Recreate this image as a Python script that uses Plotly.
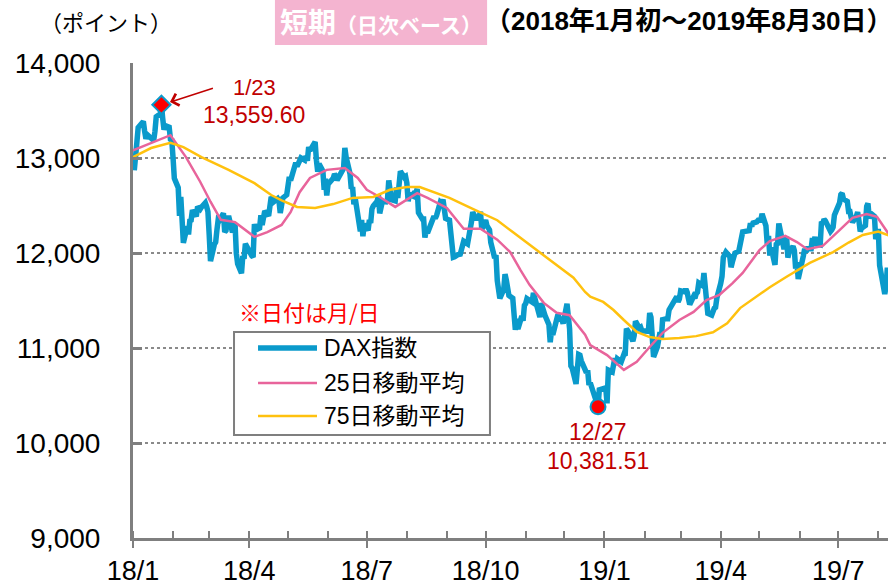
import plotly.graph_objects as go

# ---------------- data ----------------
dax_dates = [
"2018-01-02","2018-01-03","2018-01-04","2018-01-05","2018-01-08","2018-01-09","2018-01-10","2018-01-11","2018-01-12",
"2018-01-15","2018-01-16","2018-01-17","2018-01-18","2018-01-19","2018-01-22","2018-01-23","2018-01-24","2018-01-25",
"2018-01-26","2018-01-29","2018-01-30","2018-01-31","2018-02-01","2018-02-02","2018-02-05","2018-02-06","2018-02-07",
"2018-02-08","2018-02-09","2018-02-12","2018-02-13","2018-02-14","2018-02-15","2018-02-16","2018-02-19","2018-02-20",
"2018-02-21","2018-02-22","2018-02-23","2018-02-26","2018-02-27","2018-02-28","2018-03-01","2018-03-02","2018-03-05",
"2018-03-06","2018-03-07","2018-03-08","2018-03-09","2018-03-12","2018-03-13","2018-03-14","2018-03-15","2018-03-16",
"2018-03-19","2018-03-20","2018-03-21","2018-03-22","2018-03-23","2018-03-26","2018-03-27","2018-03-28","2018-03-29",
"2018-04-03","2018-04-04","2018-04-05","2018-04-06","2018-04-09","2018-04-10","2018-04-11","2018-04-12","2018-04-13",
"2018-04-16","2018-04-17","2018-04-18","2018-04-19","2018-04-20","2018-04-23","2018-04-24","2018-04-25","2018-04-26",
"2018-04-27","2018-04-30","2018-05-02","2018-05-03","2018-05-04","2018-05-07","2018-05-08","2018-05-09","2018-05-10",
"2018-05-11","2018-05-14","2018-05-15","2018-05-16","2018-05-17","2018-05-18","2018-05-22","2018-05-23","2018-05-24",
"2018-05-25","2018-05-28","2018-05-29","2018-05-30","2018-05-31","2018-06-01","2018-06-04","2018-06-05","2018-06-06",
"2018-06-07","2018-06-08","2018-06-11","2018-06-12","2018-06-13","2018-06-14","2018-06-15","2018-06-18","2018-06-19",
"2018-06-20","2018-06-21","2018-06-22","2018-06-25","2018-06-26","2018-06-27","2018-06-28","2018-06-29","2018-07-02",
"2018-07-03","2018-07-04","2018-07-05","2018-07-06","2018-07-09","2018-07-10","2018-07-11","2018-07-12","2018-07-13",
"2018-07-16","2018-07-17","2018-07-18","2018-07-19","2018-07-20","2018-07-23","2018-07-24","2018-07-25","2018-07-26",
"2018-07-27","2018-07-30","2018-07-31","2018-08-01","2018-08-02","2018-08-03","2018-08-06","2018-08-07","2018-08-08",
"2018-08-09","2018-08-10","2018-08-13","2018-08-14","2018-08-15","2018-08-16","2018-08-17","2018-08-20","2018-08-21",
"2018-08-22","2018-08-23","2018-08-24","2018-08-27","2018-08-28","2018-08-29","2018-08-30","2018-08-31","2018-09-03",
"2018-09-04","2018-09-05","2018-09-06","2018-09-07","2018-09-10","2018-09-11","2018-09-12","2018-09-13","2018-09-14",
"2018-09-17","2018-09-18","2018-09-19","2018-09-20","2018-09-21","2018-09-24","2018-09-25","2018-09-26","2018-09-27",
"2018-09-28","2018-10-01","2018-10-02","2018-10-04","2018-10-05","2018-10-08","2018-10-09","2018-10-10","2018-10-11",
"2018-10-12","2018-10-15","2018-10-16","2018-10-17","2018-10-18","2018-10-19","2018-10-22","2018-10-23","2018-10-24",
"2018-10-25","2018-10-26","2018-10-29","2018-10-30","2018-10-31","2018-11-01","2018-11-02","2018-11-05","2018-11-06",
"2018-11-07","2018-11-08","2018-11-09","2018-11-12","2018-11-13","2018-11-14","2018-11-15","2018-11-16","2018-11-19",
"2018-11-20","2018-11-21","2018-11-22","2018-11-23","2018-11-26","2018-11-27","2018-11-28","2018-11-29","2018-11-30",
"2018-12-03","2018-12-04","2018-12-05","2018-12-06","2018-12-07","2018-12-10","2018-12-11","2018-12-12","2018-12-13",
"2018-12-14","2018-12-17","2018-12-18","2018-12-19","2018-12-20","2018-12-21","2018-12-27","2018-12-28",
"2019-01-02","2019-01-03","2019-01-04","2019-01-07","2019-01-08","2019-01-09","2019-01-10","2019-01-11","2019-01-14",
"2019-01-15","2019-01-16","2019-01-17","2019-01-18","2019-01-21","2019-01-22","2019-01-23","2019-01-24","2019-01-25",
"2019-01-28","2019-01-29","2019-01-30","2019-01-31","2019-02-01","2019-02-04","2019-02-05","2019-02-06","2019-02-07",
"2019-02-08","2019-02-11","2019-02-12","2019-02-13","2019-02-14","2019-02-15","2019-02-18","2019-02-19","2019-02-20",
"2019-02-21","2019-02-22","2019-02-25","2019-02-26","2019-02-27","2019-02-28","2019-03-01","2019-03-04","2019-03-05",
"2019-03-06","2019-03-07","2019-03-08","2019-03-11","2019-03-12","2019-03-13","2019-03-14","2019-03-15","2019-03-18",
"2019-03-19","2019-03-20","2019-03-21","2019-03-22","2019-03-25","2019-03-26","2019-03-27","2019-03-28","2019-03-29",
"2019-04-01","2019-04-02","2019-04-03","2019-04-04","2019-04-05","2019-04-08","2019-04-09","2019-04-10","2019-04-11",
"2019-04-12","2019-04-15","2019-04-16","2019-04-17","2019-04-18","2019-04-23","2019-04-24","2019-04-25","2019-04-26",
"2019-04-29","2019-04-30","2019-05-02","2019-05-03","2019-05-06","2019-05-07","2019-05-08","2019-05-09","2019-05-10",
"2019-05-13","2019-05-14","2019-05-15","2019-05-16","2019-05-17","2019-05-20","2019-05-21","2019-05-22","2019-05-23",
"2019-05-24","2019-05-27","2019-05-28","2019-05-29","2019-05-30","2019-05-31","2019-06-03","2019-06-04","2019-06-05",
"2019-06-06","2019-06-07","2019-06-10","2019-06-11","2019-06-12","2019-06-13","2019-06-14","2019-06-17","2019-06-18",
"2019-06-19","2019-06-20","2019-06-21","2019-06-24","2019-06-25","2019-06-26","2019-06-27","2019-06-28","2019-07-01",
"2019-07-02","2019-07-03","2019-07-04","2019-07-05","2019-07-08","2019-07-09","2019-07-10","2019-07-11","2019-07-12",
"2019-07-15","2019-07-16","2019-07-17","2019-07-18","2019-07-19","2019-07-22","2019-07-23","2019-07-24","2019-07-25",
"2019-07-26","2019-07-29","2019-07-30","2019-07-31","2019-08-01","2019-08-02","2019-08-05","2019-08-06","2019-08-07",
"2019-08-08","2019-08-09",
]
dax_values = [
12871,12978,13167,13320,13367,13385,13282,13202,13245,
13201,13183,13184,13281,13434,13463,13559.60,13415,13298,
13340,13324,13197,13189,13004,12785,12687,12392,12590,
12260,12107,12282,12196,12339,12346,12452,12385,12488,
12470,12461,12483,12528,12490,12436,12190,11914,12091,
12114,12245,12355,12346,12418,12221,12237,12345,12390,
12217,12307,12309,11995,11887,11787,11970,11940,12097,
11970,11957,12305,12241,12262,12397,12294,12415,12442,
12392,12585,12591,12567,12540,12572,12550,12422,12500,
12580,12612,12802,12763,12820,12949,12912,12943,12956,
13001,12978,13019,12970,13115,13077,13169,12977,12855,
12938,12863,12666,12783,12605,12724,12771,12787,12830,
12811,12767,12842,12842,12890,13107,13010,12834,12677,
12695,12512,12580,12270,12228,12348,12177,12306,12238,
12349,12317,12465,12496,12543,12609,12417,12492,12541,
12539,12561,12765,12686,12561,12548,12690,12579,12809,
12860,12798,12806,12737,12546,12616,12598,12648,12634,
12676,12424,12358,12358,12163,12237,12210,12312,12384,
12386,12365,12394,12538,12528,12562,12494,12364,12346,
12210,12040,11955,11960,11987,11970,12032,12055,12124,
12096,12157,12219,12326,12430,12350,12374,12385,12435,
12247,12346,12287,12244,12111,11947,11977,11712,11539,
11523,11614,11777,11715,11589,11553,11524,11274,11191,
11307,11201,11335,11287,11447,11468,11519,11494,11484,
11579,11527,11529,11325,11472,11412,11354,11341,11245,
11061,11183,11138,11192,11354,11309,11299,11298,11257,
11465,11335,11201,10811,10788,10622,10780,10931,10924,
10866,10772,10740,10766,10611,10634,10381.51,10559,
10580,10417,10767,10747,10804,10893,10822,10887,10856,
10891,10931,10919,11205,11136,11090,11072,11130,11282,
11210,11219,11181,11173,11180,11176,11368,11324,10990,
10906,11014,11126,11167,11090,11299,11309,11309,11401,
11423,11457,11505,11540,11487,11516,11601,11592,11620,
11588,11518,11458,11543,11524,11572,11587,11685,11657,
11789,11603,11550,11364,11346,11419,11419,11428,11526,
11681,11754,11954,11988,12009,11963,11850,11905,11935,
11999,12020,12101,12153,12222,12235,12313,12282,12315,
12328,12344,12345,12412,12286,12093,12180,11973,12059,
11876,12092,12100,12310,12238,12041,12143,12168,11952,
12011,12071,12027,11837,11902,11727,11971,11971,12045,
12010,12045,12045,12158,12115,12169,12096,12086,12331,
12309,12355,12340,12274,12228,12245,12271,12399,12521,
12527,12616,12629,12568,12543,12437,12437,12373,12323,
12387,12430,12341,12227,12260,12289,12490,12522,12362,
12419,12386,12147,12189,12253,11872,11659,11568,11650,
11845,11694,
]

ma25_dates = [
"2018-01-01","2018-01-30","2018-02-11","2018-02-22","2018-03-02","2018-03-10","2018-03-21","2018-03-29",
"2018-04-05","2018-04-15","2018-04-26","2018-05-03","2018-05-10","2018-05-18","2018-05-31","2018-06-14",
"2018-06-24","2018-07-01","2018-07-11","2018-07-23","2018-08-01","2018-08-09","2018-08-17","2018-08-23",
"2018-09-01","2018-09-14","2018-09-27","2018-10-10","2018-10-20","2018-10-28","2018-11-04","2018-11-15",
"2018-11-25","2018-12-05","2018-12-17","2018-12-21","2019-01-03","2019-01-16","2019-01-26","2019-02-05",
"2019-02-15","2019-02-28","2019-03-11","2019-03-21","2019-03-31","2019-04-10","2019-04-18","2019-05-01",
"2019-05-09","2019-05-21","2019-05-30","2019-06-07","2019-06-19","2019-07-02","2019-07-12","2019-07-23",
"2019-07-31","2019-08-09",
]
ma25_values = [
13080,13240,13010,12750,12540,12350,12325,12240,
12170,12220,12295,12430,12640,12790,12875,12895,
12790,12665,12590,12485,12560,12630,12580,12540,
12475,12255,12255,12140,12010,11820,11665,11475,
11370,11345,11140,11030,10925,10770,10855,11010,
11160,11295,11380,11505,11560,11680,11790,12030,
12125,12180,12115,12040,12075,12240,12370,12410,
12380,12200,
]

ma75_dates = [
"2018-01-01","2018-01-15","2018-01-30","2018-02-09","2018-02-23","2018-03-16","2018-04-05","2018-04-18",
"2018-04-26","2018-05-08","2018-05-22","2018-06-05","2018-06-20","2018-07-06","2018-07-19","2018-08-01",
"2018-08-11","2018-08-21","2018-09-03","2018-09-21","2018-10-10","2018-10-22","2018-11-04","2018-11-17",
"2018-11-30","2018-12-08","2018-12-17","2018-12-21","2018-12-31","2019-01-08","2019-01-16","2019-01-26",
"2019-02-05","2019-02-15","2019-02-28","2019-03-13","2019-03-26","2019-04-06","2019-04-16","2019-04-29",
"2019-05-09","2019-05-22","2019-06-09","2019-06-27","2019-07-09","2019-07-20","2019-08-01","2019-08-09",
]
ma75_values = [
13010,13105,13160,13115,13010,12875,12735,12610,
12555,12485,12475,12515,12580,12590,12665,12695,
12695,12645,12580,12465,12345,12220,12085,11960,
11820,11740,11590,11540,11485,11400,11295,11170,
11115,11095,11105,11125,11165,11260,11420,11540,
11640,11750,11895,12010,12110,12190,12225,12185,
]

series_names = ["DAX指数", "25日移動平均", "75日移動平均"]

x_tick_vals = ["2018-01-01","2018-04-01","2018-07-01","2018-10-01","2019-01-01","2019-04-01","2019-07-01"]
x_tick_text = ["18/1","18/4","18/7","18/10","19/1","19/4","19/7"]
y_tick_vals = [9000,10000,11000,12000,13000,14000]
y_tick_text = ["9,000","10,000","11,000","12,000","13,000","14,000"]

high_date, high_value = "2018-01-23", 13559.60
low_date, low_value = "2018-12-27", 10381.51

# ---------------- styles ----------------
BLUE = "#0a9acb"
PINK = "#e8649b"
YELLOW = "#ffc10e"
GREY = "#7f7f7f"
DARKRED = "#c00000"
NUM_FONT = "Liberation Sans, Arial, Noto Sans CJK JP"
JP_FONT = "Noto Sans CJK JP, Liberation Sans"
series_colors = [BLUE, PINK, YELLOW]
series_widths = [5.5, 2.5, 2.5]

fig = go.Figure()
for xs, ys, name, col, w in zip([dax_dates, ma25_dates, ma75_dates],
                                [dax_values, ma25_values, ma75_values],
                                series_names, series_colors, series_widths):
    fig.add_trace(go.Scatter(x=xs, y=ys, mode="lines", name=name, showlegend=False,
                             line=dict(color=col, width=w)))
fig.add_trace(go.Scatter(x=[high_date], y=[high_value], mode="markers", showlegend=False,
                         marker=dict(symbol="diamond", size=14, color="#ff0000",
                                     line=dict(color=BLUE, width=2))))
fig.add_trace(go.Scatter(x=[low_date], y=[low_value], mode="markers", showlegend=False,
                         marker=dict(symbol="circle", size=15, color="#ff0000",
                                     line=dict(color=BLUE, width=2))))
# invisible helper for overlay axis (inside major ticks)
fig.add_trace(go.Scatter(x=[x_tick_vals[0]], y=[9000], xaxis="x2", mode="markers",
                         marker=dict(opacity=0), showlegend=False, hoverinfo="skip"))

fig.update_layout(
    template="none",
    width=888, height=582,
    margin=dict(l=133, r=0, t=63, b=44, autoexpand=False),
    plot_bgcolor="white", paper_bgcolor="white",
    showlegend=False,
    xaxis=dict(
        type="date", range=["2018-01-01", "2019-08-08 12:00"], automargin=False,
        tickmode="array", tickvals=x_tick_vals, ticktext=x_tick_text,
        ticks="outside", ticklen=7, tickwidth=2, tickcolor=GREY,
        showline=True, linecolor=GREY, linewidth=3,
        showgrid=False, zeroline=False,
        tickfont=dict(family=NUM_FONT, size=27, color="black"),
        minor=dict(dtick="M1", tick0="2018-01-01", ticks="inside", ticklen=7,
                   tickwidth=2, tickcolor=GREY, showgrid=False),
    ),
    xaxis2=dict(
        type="date", overlaying="x", matches="x", anchor="y", side="bottom", automargin=False,
        tickmode="array", tickvals=x_tick_vals, showticklabels=False,
        ticks="inside", ticklen=7, tickwidth=2, tickcolor=GREY,
        showline=False, showgrid=False, zeroline=False,
    ),
    yaxis=dict(
        range=[9000, 14000], tickmode="array", tickvals=y_tick_vals, ticktext=y_tick_text,
        automargin=False,
        ticks="inside", ticklen=9, tickwidth=3, tickcolor=GREY,
        showline=True, linecolor=GREY, linewidth=3,
        showgrid=True, gridcolor="#8a8a8a", gridwidth=2, griddash="dot",
        zeroline=False, ticklabelstandoff=24,
        tickfont=dict(family=NUM_FONT, size=28, color="black"),
    ),
)

# title box
fig.add_shape(type="rect", xref="paper", yref="paper", x0=0.188, x1=0.469, y0=1.038, y1=1.2,
              fillcolor="#f4b4d0", line=dict(width=0), layer="below")

# manual legend
fig.add_shape(type="rect", xref="paper", yref="paper", x0=0.1338, x1=0.4728, y0=0.2168, y1=0.4337,
              fillcolor="white", line=dict(color=GREY, width=2), layer="above")
legend_rows_y = [0.4, 0.3263, 0.2568]
for name, col, w, ry in zip(series_names, series_colors, series_widths, legend_rows_y):
    fig.add_shape(type="line", xref="paper", yref="paper", x0=0.1656, x1=0.2437, y0=ry, y1=ry,
                  line=dict(color=col, width=w), layer="above")
    fig.add_annotation(xref="paper", yref="paper", x=0.2503, y=ry, text=name, showarrow=False,
                       xanchor="left", yanchor="middle",
                       font=dict(family=NUM_FONT, size=23, color="black"))

annos = [
    dict(text="（ポイント）", x=-0.036, y=1.088, font=dict(family=JP_FONT, size=22, color="black")),
    dict(text="<b><span style='font-size:28px'>短期</span>（日次ベース）</b>", x=0.328, y=1.088,
         font=dict(family=JP_FONT, size=21, color="white")),
    dict(text="<b>（2018年1月初～2019年8月30日）</b>", x=0.737, y=1.088,
         font=dict(family="Liberation Sans, Noto Sans CJK JP", size=26, color="black")),
    dict(text="※日付は月/日", x=0.138, y=0.478, xanchor="left",
         font=dict(family=JP_FONT, size=22, color="#ff0000")),
]
for a in annos:
    base = dict(xref="paper", yref="paper", showarrow=False, xanchor="center", yanchor="middle")
    base.update(a)
    fig.add_annotation(**base)

# peak labels
fig.add_annotation(x=high_date, y=high_value, text="1/23", showarrow=False,
                   xshift=93, yshift=17, font=dict(family=NUM_FONT, size=22, color=DARKRED))
fig.add_annotation(x=high_date, y=high_value, text="13,559.60", showarrow=False,
                   xshift=93, yshift=-10, font=dict(family=NUM_FONT, size=23, color=DARKRED))
fig.add_annotation(x=high_date, y=high_value, text="", showarrow=True, ax=53, ay=-17,
                   arrowhead=4, arrowsize=1.6, arrowwidth=1.5, arrowcolor=DARKRED, standoff=9)
# low labels
fig.add_annotation(x=low_date, y=low_value, text="12/27", showarrow=False,
                   yshift=-25, font=dict(family=NUM_FONT, size=23, color=DARKRED))
fig.add_annotation(x=low_date, y=low_value, text="10,381.51", showarrow=False,
                   yshift=-54, font=dict(family=NUM_FONT, size=23, color=DARKRED))

fig.write_html("out.html")
